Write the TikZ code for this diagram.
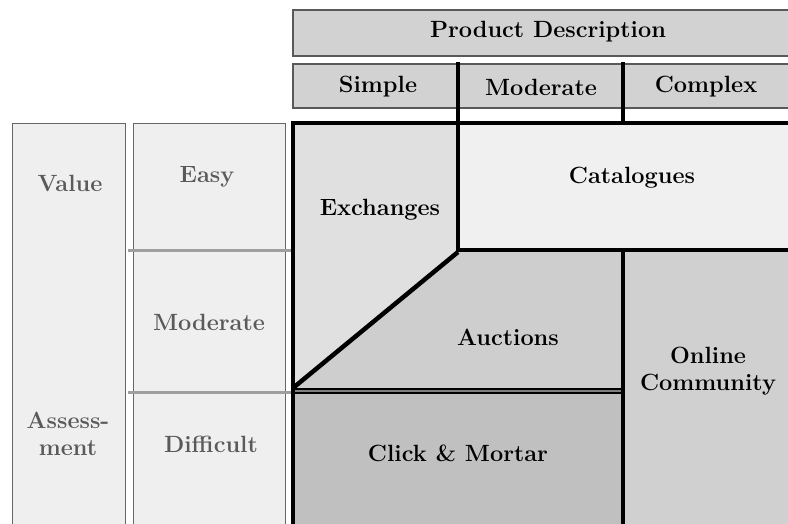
\documentclass[tikz,border=0pt]{standalone}
\begin{document}
\begin{tikzpicture}[x=1pt,y=-1pt,
  lbl/.style={font=\fontsize{23.5}{27}\selectfont\bfseries, text=black, align=center, inner sep=0pt},
  sidelbl/.style={lbl, text=sidetext},
  hdrbox/.style={fill=hdrfill, draw=gray!70!black, line width=1.2pt},
  sidebox/.style={fill=sidefill, draw=gray!80!black, line width=0.8pt},
  rowrule/.style={draw=gray!75, line width=3pt},
  wall/.style={draw=black, line width=4.5pt},
]
\definecolor{hdrfill}{HTML}{D2D2D2}
\definecolor{sidefill}{HTML}{EFEFEF}
\definecolor{sidetext}{HTML}{5A5A5A}
\definecolor{catfill}{HTML}{F0F0F0}
\definecolor{exfill}{HTML}{E0E0E0}
\definecolor{aucfill}{HTML}{CECECE}
\definecolor{cmfill}{HTML}{C0C0C0}
\definecolor{ocfill}{HTML}{D0D0D0}

\useasboundingbox (0,0) rectangle (788,523);
\fill[white] (0,0) rectangle (788,523);

% column headers
\draw[hdrbox] (293,10) rectangle (795,56);
\draw[hdrbox] (293,64) rectangle (795,108);
\draw[wall] (458,62) -- (458,123);
\draw[wall] (623,62) -- (623,123);

% row headers on the left
\draw[sidebox] (12,123) rectangle (125,530);
\draw[sidebox] (133,123) rectangle (285,530);
\draw[rowrule] (128,250) -- (292,250);
\draw[rowrule] (128,392) -- (292,392);

% market regions
\fill[exfill] (293,123) -- (458,123) -- (458,252) -- (293,388) -- cycle;
\fill[catfill] (458,123) rectangle (795,250);
\fill[aucfill] (458,252) -- (623,252) -- (623,390) -- (293,390) -- cycle;
\fill[cmfill] (293,390) rectangle (623,530);
\fill[ocfill] (623,250) rectangle (795,530);

% region borders
\draw[wall] (293,530) -- (293,123) -- (795,123);
\draw[wall] (458,123) -- (458,250) -- (795,250);
\draw[wall] (458,252) -- (293,388);
\draw[wall] (623,250) -- (623,530);
\draw[draw=black, line width=6pt] (293,391) -- (623,391);
\draw[draw=gray, line width=1.2pt] (295,391) -- (621,391);

% labels
\node[lbl] (pd) at (548,32) {Product Description};
\node[lbl] (simple) at (378,87) {Simple};
\node[lbl] (modcol) at (541,87) {Moderate};
\node[lbl] (complex) at (706,87) {Complex};

\node[sidelbl] (value) at (70,183) {Value};
\node[sidelbl] (assess) at (68,434) {Assess-\\ment};
\node[sidelbl] (easy) at (207,177) {Easy};
\node[sidelbl] (modrow) at (209,322) {Moderate};
\node[sidelbl] (difficult) at (211,444) {Difficult};

\node[lbl] (exch) at (380,210) {Exchanges};
\node[lbl] (cat) at (632,178) {Catalogues};
\node[lbl] (auc) at (508,337) {Auctions};
\node[lbl] (oc) at (708,371) {Online\\Community};
\node[lbl] (cm) at (458,453) {Click \& Mortar};
\end{tikzpicture}
\end{document}
